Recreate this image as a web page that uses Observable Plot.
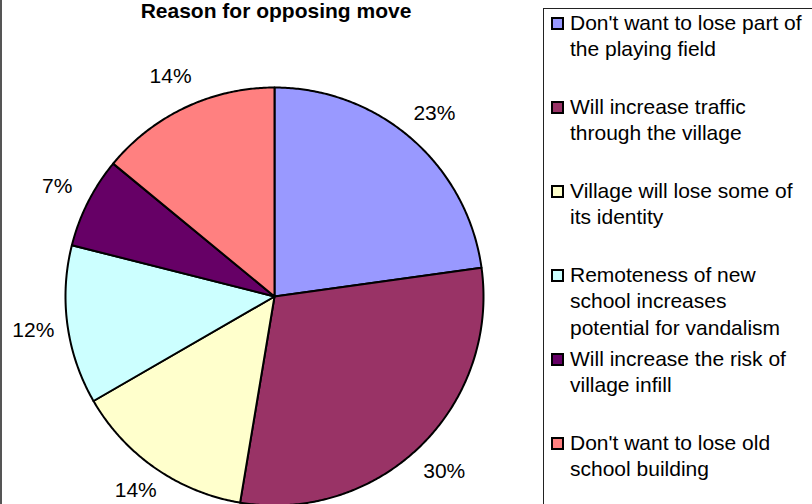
<!DOCTYPE html>
<html><head><meta charset="utf-8">
<script src="https://cdn.jsdelivr.net/npm/d3@7"></script>
<script src="https://cdn.jsdelivr.net/npm/@observablehq/plot@0.6"></script>
<style>
html,body{margin:0;padding:0;background:#fff;overflow:hidden;}
#wrap{position:relative;width:812px;height:504px;overflow:hidden;font-family:"Liberation Sans",Arial,sans-serif;}
#chart{position:absolute;left:0;top:0;}
#frame{position:absolute;left:0;top:-10px;width:900px;height:600px;border-left:2px solid #555;box-sizing:border-box;pointer-events:none;}
#legendbox{position:absolute;left:543px;top:8px;width:400px;height:600px;border:1px solid #222;box-sizing:border-box;}
.item{position:absolute;left:551px;width:270px;font-size:21px;line-height:26.5px;color:#000;}
.sw{position:absolute;left:0;top:7px;width:9px;height:9px;border:2px solid #000;}
.txt{position:absolute;left:19px;width:235px;}
</style></head><body>
<div id="wrap"><div id="chart"></div><div id="frame"></div><div id="legendbox"></div><div id="legend"></div></div>
<script>
const title = "Reason for opposing move";
const categories = [
  "Don't want to lose part of the playing field",
  "Will increase traffic through the village",
  "Village will lose some of its identity",
  "Remoteness of new school increases potential for vandalism",
  "Will increase the risk of village infill",
  "Don't want to lose old school building"
];
const counts = [13, 17, 8, 7, 4, 8];
const colors = ["#9999FF", "#993366", "#FFFFCC", "#CCFFFF", "#660066", "#FF8080"];

const total = d3.sum(counts);
const data = categories.map((c, i) => ({cat: c, count: counts[i], color: colors[i], pct: counts[i] / total}));
const arcs = d3.pie().sort(null).value(d => d.count)(data);

function slicePoints(a) {
  const pts = [{x: 0, y: 0}];
  const n = Math.max(2, Math.ceil((a.endAngle - a.startAngle) / (Math.PI / 360)));
  for (let k = 0; k <= n; k++) {
    const t = a.startAngle + (a.endAngle - a.startAngle) * k / n;
    pts.push({x: Math.sin(t), y: Math.cos(t)});
  }
  pts.push({x: 0, y: 0});
  return pts;
}
// label placement: outside the pie at the slice mid-angle, kept inside the plot's lower edge
const labelR = 1.165;
const yRange = [505, 87];
const minLabelY = -1 + 2 * (yRange[0] - 490) / (yRange[0] - yRange[1]);
const labels = arcs.map(a => {
  const m = (a.startAngle + a.endAngle) / 2;
  return {x: labelR * Math.sin(m), y: Math.max(minLabelY, labelR * Math.cos(m)), text: Math.round(a.data.pct * 100) + "%"};
});

const plot = Plot.plot({
  width: 812,
  height: 504,
  margin: 0,
  style: {fontFamily: "'Liberation Sans', Arial, sans-serif", background: "transparent", overflow: "visible"},
  x: {domain: [-1, 1], range: [65, 483], axis: null},
  y: {domain: [-1, 1], range: yRange, axis: null},
  marks: [
    ...arcs.map(a => Plot.line(slicePoints(a), {x: "x", y: "y", fill: a.data.color, stroke: "#000", strokeWidth: 2, strokeLinejoin: "round", curve: "linear"})),
    Plot.text(labels, {x: "x", y: "y", text: "text", fontSize: 21, fill: "#000"}),
    Plot.text([title], {x: 0, frameAnchor: "top", dy: 17, dx: 1.5, lineAnchor: "bottom", fontSize: 21, fontWeight: "bold", fill: "#000"})
  ]
});
document.getElementById("chart").appendChild(plot);

const legend = document.getElementById("legend");
data.forEach((d, i) => {
  const item = document.createElement("div");
  item.className = "item";
  item.style.top = (9.5 + 84 * i) + "px";
  const sw = document.createElement("div");
  sw.className = "sw";
  sw.style.background = d.color;
  const tx = document.createElement("div");
  tx.className = "txt";
  tx.textContent = d.cat;
  item.appendChild(sw);
  item.appendChild(tx);
  legend.appendChild(item);
});
</script>
</body></html>
